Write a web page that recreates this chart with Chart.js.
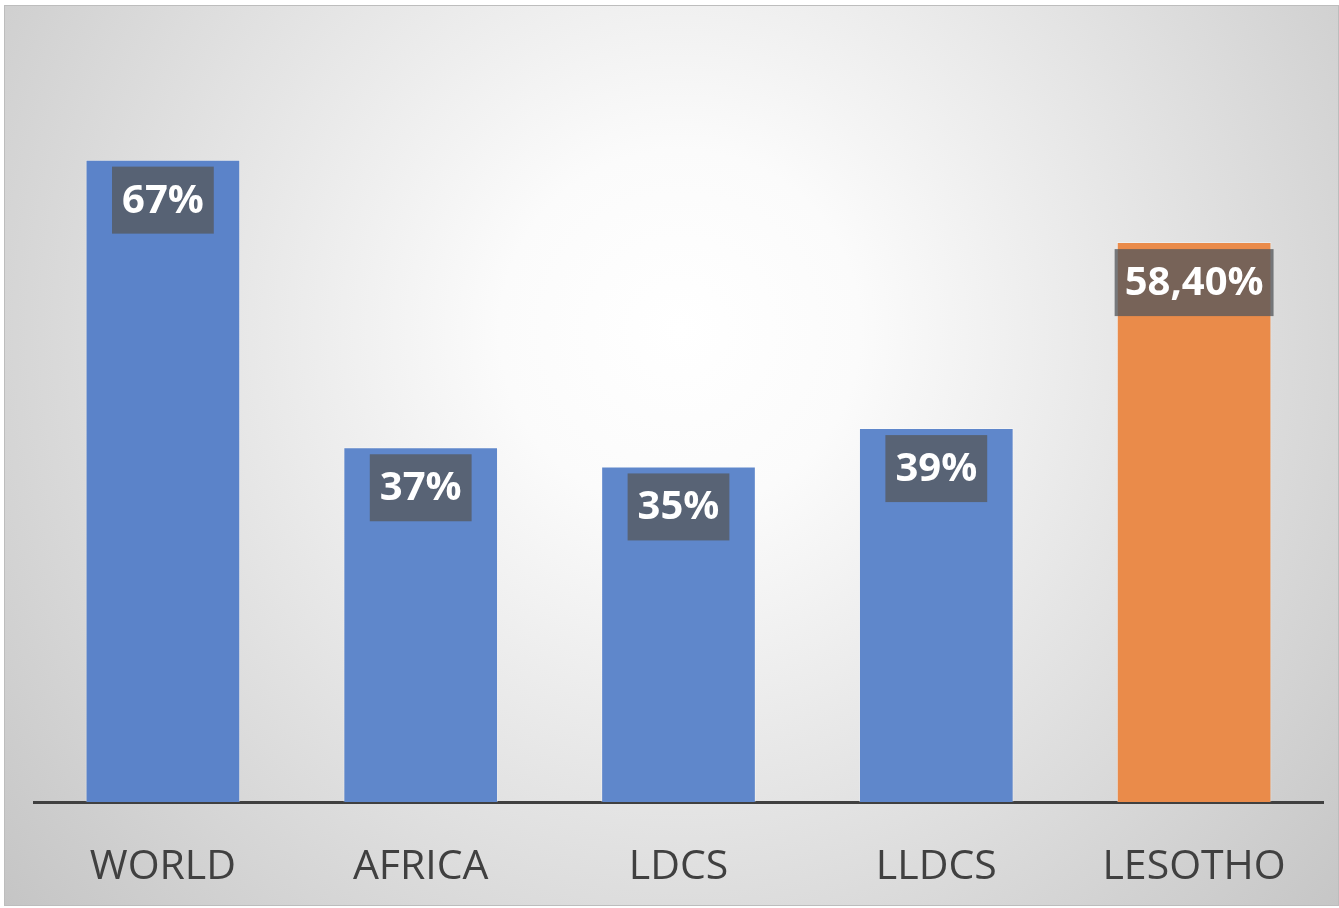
<!DOCTYPE html>
<html>
<head>
<meta charset="utf-8">
<script src="https://cdn.jsdelivr.net/npm/chart.js@4"></script>
<style>
html,body{margin:0;padding:0;background:#fff;}
#wrap{position:relative;width:1339px;height:908px;}
</style>
</head>
<body>
<div id="wrap"><canvas id="c" width="1339" height="908"></canvas></div>
<script>
const categories = ["WORLD", "AFRICA", "LDCS", "LLDCS", "LESOTHO"];
const values = [67, 37, 35, 39, 58.4];
const valueLabels = ["67%", "37%", "35%", "39%", "58,40%"];
const barColors = ["#5b83c9", "#5f87cb", "#5f87cb", "#5f87cb", "#ea8b4a"];

const bgPlugin = {
  id: 'bg',
  beforeDraw(chart) {
    const ctx = chart.ctx;
    const W = chart.width, H = chart.height;
    ctx.save();
    ctx.fillStyle = '#ffffff';
    ctx.fillRect(0, 0, W, H);
    const g = ctx.createRadialGradient(680, 330, 0, 680, 330, 900);
    g.addColorStop(0, '#ffffff');
    g.addColorStop(0.2, '#fbfbfb');
    g.addColorStop(0.55, '#e3e3e3');
    g.addColorStop(1, '#c4c4c4');
    ctx.fillStyle = g;
    ctx.fillRect(4, 5, W - 4, H - 7);
    ctx.strokeStyle = '#bdbdbd';
    ctx.lineWidth = 1;
    ctx.strokeRect(4.5, 5.5, W - 5, H - 8);
    ctx.restore();
  }
};

const labelPlugin = {
  id: 'boxLabels',
  afterDatasetsDraw(chart) {
    const ctx = chart.ctx;
    const meta = chart.getDatasetMeta(0);
    ctx.save();
    ctx.font = 'bold 40px "Open Sans", sans-serif';
    ctx.textAlign = 'center';
    ctx.textBaseline = 'middle';
    meta.data.forEach((bar, i) => {
      const txt = valueLabels[i];
      const tw = ctx.measureText(txt).width;
      const bw = tw + 20;
      const bh = 67;
      const top = bar.y + 7;
      ctx.fillStyle = 'rgba(86,88,92,0.78)';
      ctx.fillRect(bar.x - bw / 2, top, bw, bh);
      ctx.fillStyle = '#ffffff';
      ctx.fillText(txt, bar.x, top + bh / 2 + 1);
    });
    ctx.restore();
  }
};

new Chart(document.getElementById('c'), {
  type: 'bar',
  data: {
    labels: categories,
    datasets: [{
      data: values,
      backgroundColor: barColors,
      borderColor: 'rgba(255,255,255,0.35)',
      borderWidth: 1,
      barPercentage: 0.6,
      categoryPercentage: 1.0
    }]
  },
  options: {
    responsive: false,
    animation: false,
    devicePixelRatio: 1,
    layout: { padding: { top: 35, left: 34, right: 16, bottom: 18 } },
    plugins: { legend: { display: false }, tooltip: { enabled: false } },
    scales: {
      x: {
        grid: { display: false, drawTicks: false },
        border: { display: true, color: '#404040', width: 3 },
        afterFit: (s) => { s.height = 88; },
        ticks: {
          color: '#404040',
          padding: 41,
          font: { family: '"Open Sans", sans-serif', size: 41 }
        }
      },
      y: {
        display: false,
        min: 0,
        max: 80
      }
    }
  },
  plugins: [bgPlugin, labelPlugin]
});
</script>
</body>
</html>
